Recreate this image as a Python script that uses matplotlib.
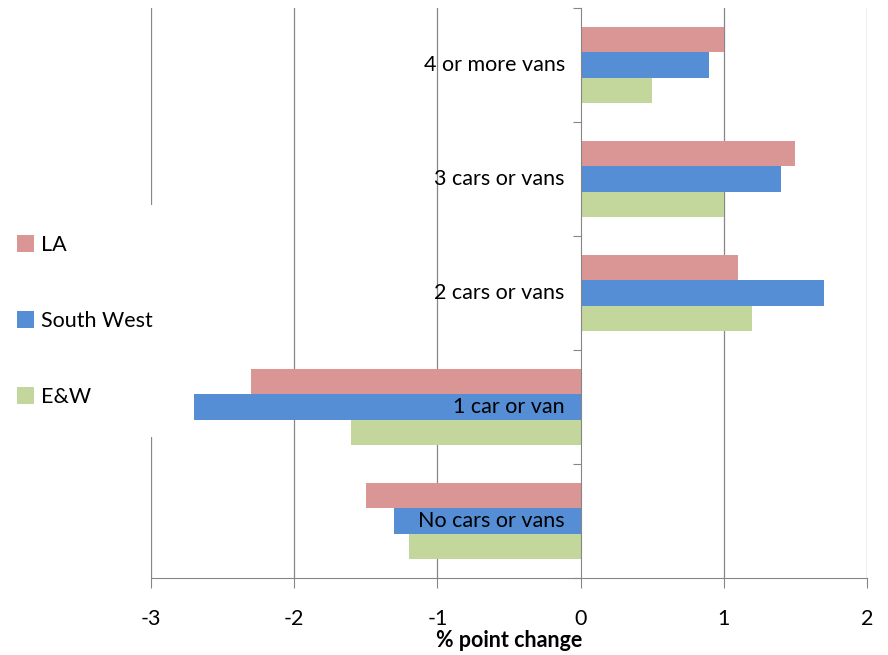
import matplotlib
matplotlib.use("Agg")
import matplotlib.pyplot as plt
import numpy as np
from matplotlib.patches import Patch

plt.rcParams["font.family"] = ["Lato", "DejaVu Sans"]

# data
categories = ["No cars or vans", "1 car or van", "2 cars or vans", "3 cars or vans", "4 or more vans"]
series_names = ["LA", "South West", "E&W"]
la_values = [-1.5, -2.3, 1.1, 1.5, 1.0]
sw_values = [-1.3, -2.7, 1.7, 1.4, 0.9]
ew_values = [-1.2, -1.6, 1.2, 1.0, 0.5]
x_ticks = [-3, -2, -1, 0, 1, 2]

colors = ["#D99694", "#558ED5", "#C3D69B"]
grid_col = "#868686"
fs = 15.5

fig = plt.figure(figsize=(8.88, 6.55), dpi=100)
ax = fig.add_axes([151 / 888, 77 / 655, 716 / 888, 570 / 655])

y = np.arange(len(categories))
h = 0.225
for vals, off, col, name in zip([la_values, sw_values, ew_values], [h, 0, -h], colors, series_names):
    ax.barh(y + off, vals, height=h, color=col, label=name, zorder=2)

ax.set_xlim(-3, 2)
ax.set_ylim(-0.5, len(categories) - 0.5)

# vertical gridlines
for t in x_ticks:
    if t != 0:
        ax.axvline(t, color=grid_col, linewidth=0.9, zorder=0)

for s in ["top", "right"]:
    ax.spines[s].set_visible(False)
ax.spines["left"].set_position(("data", 0))
ax.spines["left"].set_color(grid_col)
ax.spines["bottom"].set_color(grid_col)
ax.spines["left"].set_zorder(3)

ax.set_xticks(x_ticks)
ax.set_xticklabels([str(t) for t in x_ticks], fontsize=fs)
ax.tick_params(axis="x", direction="out", length=7, color=grid_col, pad=15)
ax.set_yticks(np.arange(len(categories) + 1) - 0.5)
ax.set_yticklabels([])
ax.tick_params(axis="y", direction="out", length=6, color=grid_col)

for yi, lab in zip(y, categories):
    ax.text(-0.11, yi, lab, ha="right", va="center", fontsize=fs, zorder=4)

ax.set_xlabel("% point change", fontsize=fs, fontweight="bold", labelpad=1)

handles = [Patch(facecolor=c, edgecolor="none") for c in colors]
fig.legend(handles, series_names, loc="center left", bbox_to_anchor=(-13 / 888, 1 - 321 / 655),
           frameon=True, facecolor="white", edgecolor="none", framealpha=1,
           fontsize=fs, handlelength=0.8, handleheight=0.8, handletextpad=0.3,
           labelspacing=2.6, borderpad=1.4, borderaxespad=0)

fig.savefig("out.png", dpi=100)
